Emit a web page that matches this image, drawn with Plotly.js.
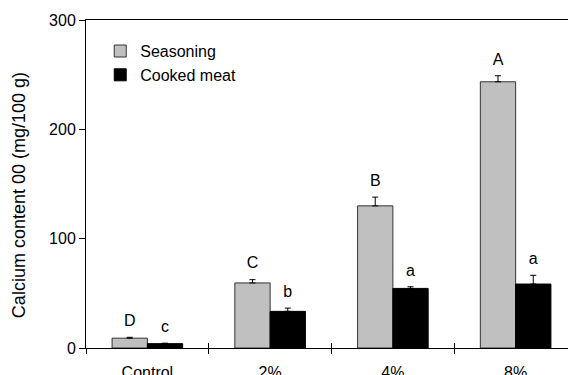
<!DOCTYPE html>
<html>
<head>
<meta charset="utf-8">
<script src="https://cdn.plot.ly/plotly-3.0.1.min.js"></script>
<style>
  html, body { margin: 0; padding: 0; background: #fff; overflow: hidden; }
  #chart { width: 600px; height: 400px; }
</style>
</head>
<body>
<div id="chart"></div>
<script>
// Calcium content by salt-substitute level
const categories = ['Control', '2%', '4%', '8%'];
const seasoningMean = [9, 59.5, 130, 243.5];
const seasoningErr = [0.8, 3, 8, 5.5];
const cookedMean = [4, 33.5, 54.5, 58.5];
const cookedErr = [0.4, 3, 1.5, 8];
const noErr = [0, 0, 0, 0];
const seasoningLetters = ['D', 'C', 'B', 'A'];
const cookedLetters = ['c', 'b', 'a', 'a'];
const yTicks = [0, 100, 200, 300];
const yTitle = 'Calcium content 00 (mg/100 g)';

const FONT = 'Liberation Sans, Arial, sans-serif';
const FS = 16;

function errBar(up) {
  return { type: 'data', symmetric: false, array: up, arrayminus: noErr,
           color: '#000', thickness: 1, width: 3 };
}
function tops(mean, err) { return mean.map((v, i) => v + err[i]); }

// significance letters sit above each error bar; the hidden marker sets the gap
function letterTrace(mean, err, letters, group) {
  return {
    type: 'scatter', mode: 'markers+text', x: categories, y: tops(mean, err),
    text: letters, textposition: 'top center', xaxis: 'x2',
    marker: { size: 10, opacity: 0 },
    textfont: { family: FONT, size: FS, color: '#000' },
    showlegend: false, hoverinfo: 'skip', offsetgroup: group
  };
}

const traces = [
  {
    type: 'bar', name: 'Seasoning', x: categories, y: seasoningMean,
    marker: { color: '#c0c0c0', line: { color: '#333', width: 1 } },
    error_y: errBar(seasoningErr), offsetgroup: 's'
  },
  {
    type: 'bar', name: 'Cooked meat', x: categories, y: cookedMean,
    marker: { color: '#000', line: { color: '#000', width: 1 } },
    error_y: errBar(cookedErr), offsetgroup: 'c'
  },
  letterTrace(seasoningMean, seasoningErr, seasoningLetters, 's'),
  letterTrace(cookedMean, cookedErr, cookedLetters, 'c')
];

const layout = {
  width: 600, height: 400,
  margin: { l: 86, r: 23, t: 20, b: 52 },
  paper_bgcolor: '#fff', plot_bgcolor: '#fff',
  font: { family: FONT, size: FS, color: '#000' },
  barmode: 'group', bargap: 0.425, bargroupgap: 0,
  scattermode: 'group',
  showlegend: true,
  legend: {
    x: 0.029, xanchor: 'left', y: 0.957, yanchor: 'top',
    bgcolor: 'rgba(0,0,0,0)', font: { family: FONT, size: FS, color: '#000' },
    traceorder: 'normal'
  },
  xaxis: {
    type: 'category', categoryarray: categories, range: [-0.5, 3.5],
    showline: true, linecolor: '#000', linewidth: 1, mirror: true,
    ticks: 'outside', tickson: 'boundaries', ticklen: 5, tickcolor: '#000',
    ticklabelstandoff: 10,
    showgrid: false, zeroline: false,
    tickfont: { family: FONT, size: FS, color: '#000' }
  },
  xaxis2: {
    type: 'category', categoryarray: categories, range: [-0.5, 3.5],
    overlaying: 'x', anchor: 'y', side: 'bottom',
    ticks: 'inside', tickson: 'boundaries', ticklen: 5, tickcolor: '#000',
    showticklabels: false, showline: false, showgrid: false, zeroline: false
  },
  yaxis: {
    range: [0, 300], tickvals: yTicks, ticktext: yTicks.map(String),
    showline: true, linecolor: '#000', linewidth: 1,
    ticks: 'outside', ticklen: 6, tickcolor: '#000',
    showgrid: false, zeroline: false,
    tickfont: { family: FONT, size: FS, color: '#000' }
  },
  annotations: [{
    text: yTitle, textangle: -90, showarrow: false,
    xref: 'paper', yref: 'paper', x: -0.1365, y: 0.466,
    xanchor: 'center', yanchor: 'middle',
    font: { family: FONT, size: 18, color: '#000' }
  }]
};

Plotly.newPlot('chart', traces, layout, { staticPlot: true, displayModeBar: false });
</script>
</body>
</html>
